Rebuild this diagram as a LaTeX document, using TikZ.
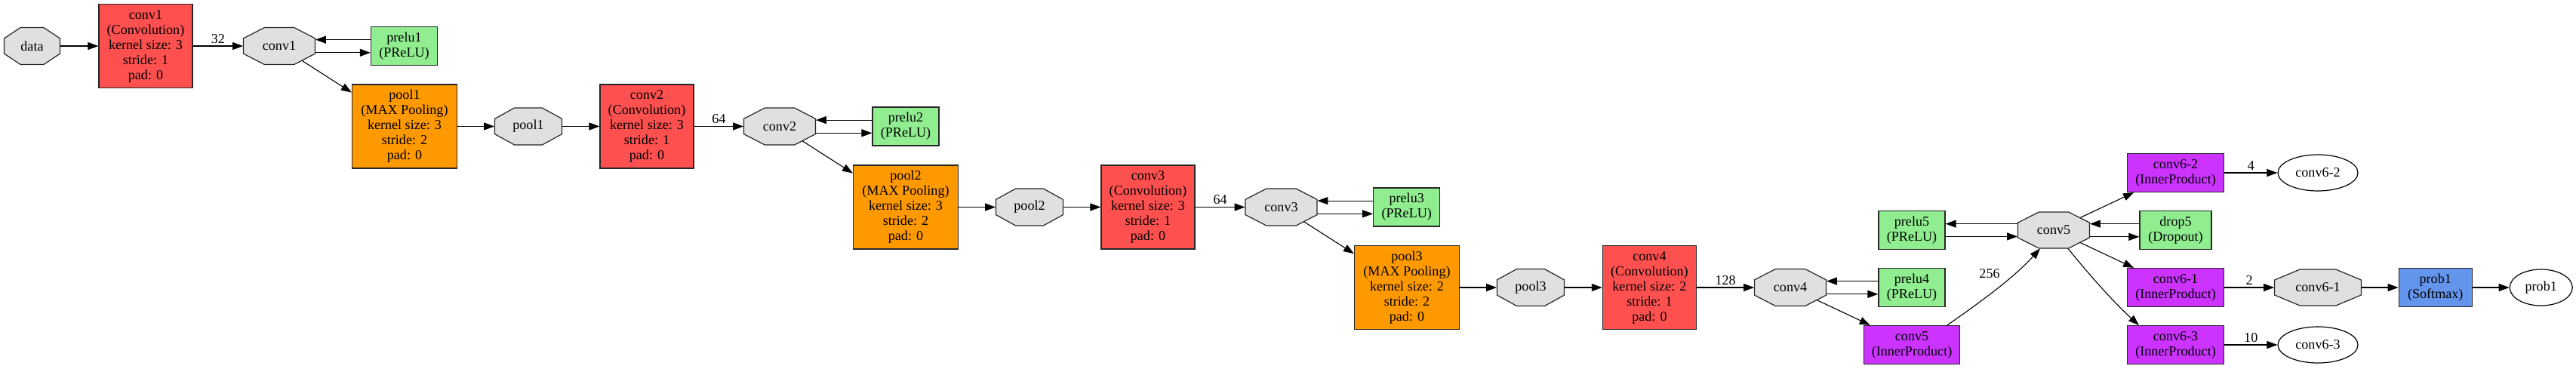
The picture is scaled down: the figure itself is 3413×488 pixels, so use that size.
\documentclass[tikz,border=0pt]{standalone}
\usepackage{fontspec}
\setmainfont{Liberation Serif}
\usetikzlibrary{arrows.meta,shapes.geometric,calc}
\pgfdeclarelayer{edgelayer}
\pgfsetlayers{edgelayer,main}
\definecolor{cconv}{HTML}{FF5050}
\definecolor{cpool}{HTML}{FF9900}
\definecolor{cip}{HTML}{CC33FF}
\definecolor{cneu}{HTML}{90EE90}
\definecolor{cblob}{HTML}{E0E0E0}
\definecolor{csoft}{HTML}{6495ED}
\newcommand\fs{\fontsize{9.05}{10}\selectfont}
\tikzset{
  lay/.style={draw=black!85, line width=0.6pt, rectangle, inner sep=0pt, align=center, font=\fs},
  bigbox/.style={lay, minimum height=55.5pt},
  convbox/.style={bigbox, fill=cconv, minimum width=62pt},
  poolbox/.style={bigbox, fill=cpool, minimum width=69.5pt},
  neubox/.style={lay, fill=cneu, minimum height=25.5pt, minimum width=44pt},
  ipbox/.style={lay, fill=cip, minimum height=25.5pt, minimum width=64pt},
  softbox/.style={lay, fill=csoft, minimum height=25.5pt, minimum width=48.5pt},
  outell/.style={ellipse, draw=black, line width=0.6pt, fill=white, inner sep=0pt, font=\fs, minimum height=24pt},
  octfill/.style={fill=cblob, draw=black!85, line width=0.6pt},
  blobtxt/.style={rectangle, inner sep=0pt, font=\fs},
  edge/.style={draw=black, line width=0.55pt, -{Triangle[length=7pt,width=5pt]}},
  lbl/.style={font=\fs, inner sep=1.5pt}
}
\newcommand\octnode[6]{%
  \filldraw[octfill] ({#2-0.5*#4},{#3-0.207*#5}) -- ({#2-0.207*#4},{#3-0.5*#5}) -- ({#2+0.207*#4},{#3-0.5*#5}) -- ({#2+0.5*#4},{#3-0.207*#5}) -- ({#2+0.5*#4},{#3+0.207*#5}) -- ({#2+0.207*#4},{#3+0.5*#5}) -- ({#2-0.207*#4},{#3+0.5*#5}) -- ({#2-0.5*#4},{#3+0.207*#5}) -- cycle;
  \node[blobtxt, minimum width={#4*0.5pt}, minimum height={#5*0.5pt}] (#1) at (#2,#3) {#6};
}
\begin{document}
\begin{tikzpicture}[x=0.5pt,y=-0.5pt]
\useasboundingbox (0,0) rectangle (3413,488);
% blobs
\octnode{data}{42.5}{61}{74}{49}{data}
\octnode{conv1}{370}{61}{95}{49}{conv1}
\octnode{pool1}{700}{167.5}{89}{49}{pool1}
\octnode{conv2}{1033}{167.5}{95}{49}{conv2}
\octnode{pool2}{1364}{274.5}{89}{49}{pool2}
\octnode{conv3}{1697.5}{274.5}{95}{49}{conv3}
\octnode{pool3}{2028}{381}{89}{49}{pool3}
\octnode{conv4}{2372}{381}{95}{49}{conv4}
\octnode{conv5}{2721}{305}{95}{48}{conv5}
\octnode{conv61}{3071}{381}{115}{48}{conv6-1}
% layers
\node[convbox] (Lconv1) at (193,61) {conv1\\(Convolution)\\kernel size: 3\\stride: 1\\pad: 0};
\node[neubox] (Lprelu1) at (535.5,61) {prelu1\\(PReLU)};
\node[poolbox] (Lpool1) at (536,167.5) {pool1\\(MAX Pooling)\\kernel size: 3\\stride: 2\\pad: 0};
\node[convbox] (Lconv2) at (857,167.5) {conv2\\(Convolution)\\kernel size: 3\\stride: 1\\pad: 0};
\node[neubox] (Lprelu2) at (1200,167.5) {prelu2\\(PReLU)};
\node[poolbox] (Lpool2) at (1200,274.5) {pool2\\(MAX Pooling)\\kernel size: 3\\stride: 2\\pad: 0};
\node[convbox] (Lconv3) at (1521,274.5) {conv3\\(Convolution)\\kernel size: 3\\stride: 1\\pad: 0};
\node[neubox] (Lprelu3) at (1863.7,274.5) {prelu3\\(PReLU)};
\node[poolbox] (Lpool3) at (1864,381) {pool3\\(MAX Pooling)\\kernel size: 2\\stride: 2\\pad: 0};
\node[convbox] (Lconv4) at (2185.4,381) {conv4\\(Convolution)\\kernel size: 2\\stride: 1\\pad: 0};
\node[neubox] (Lprelu4) at (2533,381) {prelu4\\(PReLU)};
\node[ipbox, minimum width=63.5pt] (Lconv5) at (2533,457) {conv5\\(InnerProduct)};
\node[neubox] (Lprelu5) at (2533,305) {prelu5\\(PReLU)};
\node[neubox, minimum width=47.5pt] (Ldrop5) at (2882.5,305) {drop5\\(Dropout)};
\node[ipbox] (Lconv62) at (2882.5,229) {conv6-2\\(InnerProduct)};
\node[ipbox] (Lconv61) at (2882.5,381) {conv6-1\\(InnerProduct)};
\node[ipbox] (Lconv63) at (2882.5,457) {conv6-3\\(InnerProduct)};
\node[softbox] (Lprob1) at (3226.7,381) {prob1\\(Softmax)};
% outputs
\node[outell, minimum width=53pt] (conv62) at (3071,229) {conv6-2};
\node[outell, minimum width=53pt] (conv63) at (3071,457) {conv6-3};
\node[outell, minimum width=41.5pt] (prob1) at (3366.7,381) {prob1};
\node[lbl] (l256) at (2636,363) {256};
% edges
\begin{pgfonlayer}{edgelayer}
\draw[edge] (data) -- (Lconv1);
\draw[edge] (Lconv1) -- node[lbl, above] (l32) {32} (conv1);
\draw[edge] ([yshift=4.2pt]Lprelu1.west) -- ([yshift=4.2pt]conv1.east);
\draw[edge] ([yshift=-4.4pt]conv1.east) -- ([yshift=-4.4pt]Lprelu1.west);
\draw[edge] (conv1.center) -- (Lpool1);
\draw[edge] (Lpool1) -- (pool1);
\draw[edge] (pool1) -- (Lconv2);
\draw[edge] (Lconv2) -- node[lbl, above] (l64a) {64} (conv2);
\draw[edge] ([yshift=4.2pt]Lprelu2.west) -- ([yshift=4.2pt]conv2.east);
\draw[edge] ([yshift=-4.4pt]conv2.east) -- ([yshift=-4.4pt]Lprelu2.west);
\draw[edge] (conv2.center) -- (Lpool2);
\draw[edge] (Lpool2) -- (pool2);
\draw[edge] (pool2) -- (Lconv3);
\draw[edge] (Lconv3) -- node[lbl, above] (l64b) {64} (conv3);
\draw[edge] ([yshift=4.2pt]Lprelu3.west) -- ([yshift=4.2pt]conv3.east);
\draw[edge] ([yshift=-4.4pt]conv3.east) -- ([yshift=-4.4pt]Lprelu3.west);
\draw[edge] (conv3.center) -- (Lpool3);
\draw[edge] (Lpool3) -- (pool3);
\draw[edge] (pool3) -- (Lconv4);
\draw[edge] (Lconv4) -- node[lbl, above] (l128) {128} (conv4);
\draw[edge] ([yshift=4.2pt]Lprelu4.west) -- ([yshift=4.2pt]conv4.east);
\draw[edge] ([yshift=-4.4pt]conv4.east) -- ([yshift=-4.4pt]Lprelu4.west);
\draw[edge] (conv4.center) -- (Lconv5);
\draw[edge] ($(Lconv5.north)+(23.5pt,0)$) .. controls +(35:30pt) and +(228:25pt) .. ($(conv5.south)+(-9pt,0)$);
\draw[edge] ([yshift=4.2pt]conv5.west) -- ([yshift=4.2pt]Lprelu5.east);
\draw[edge] ([yshift=-4.2pt]Lprelu5.east) -- ([yshift=-4.2pt]conv5.west);
\draw[edge] ([yshift=4.2pt]Ldrop5.west) -- ([yshift=4.2pt]conv5.east);
\draw[edge] ([yshift=-4.4pt]conv5.east) -- ([yshift=-4.4pt]Ldrop5.west);
\draw[edge] (conv5.center) -- (Lconv62);
\draw[edge] (conv5.center) -- (Lconv61);
\draw[edge] (conv5.center) .. controls +(-53:30pt) and +(138:22pt) .. ($(Lconv63.north west)+(8pt,0)$);
\draw[edge] (Lconv62) -- node[lbl, above] (l4) {4} (conv62);
\draw[edge] (Lconv61) -- node[lbl, above] (l2) {2} (conv61);
\draw[edge] (Lconv63) -- node[lbl, above] (l10) {10} (conv63);
\draw[edge] (conv61) -- (Lprob1);
\draw[edge] (Lprob1) -- (prob1);
\end{pgfonlayer}
\end{tikzpicture}
\end{document}
